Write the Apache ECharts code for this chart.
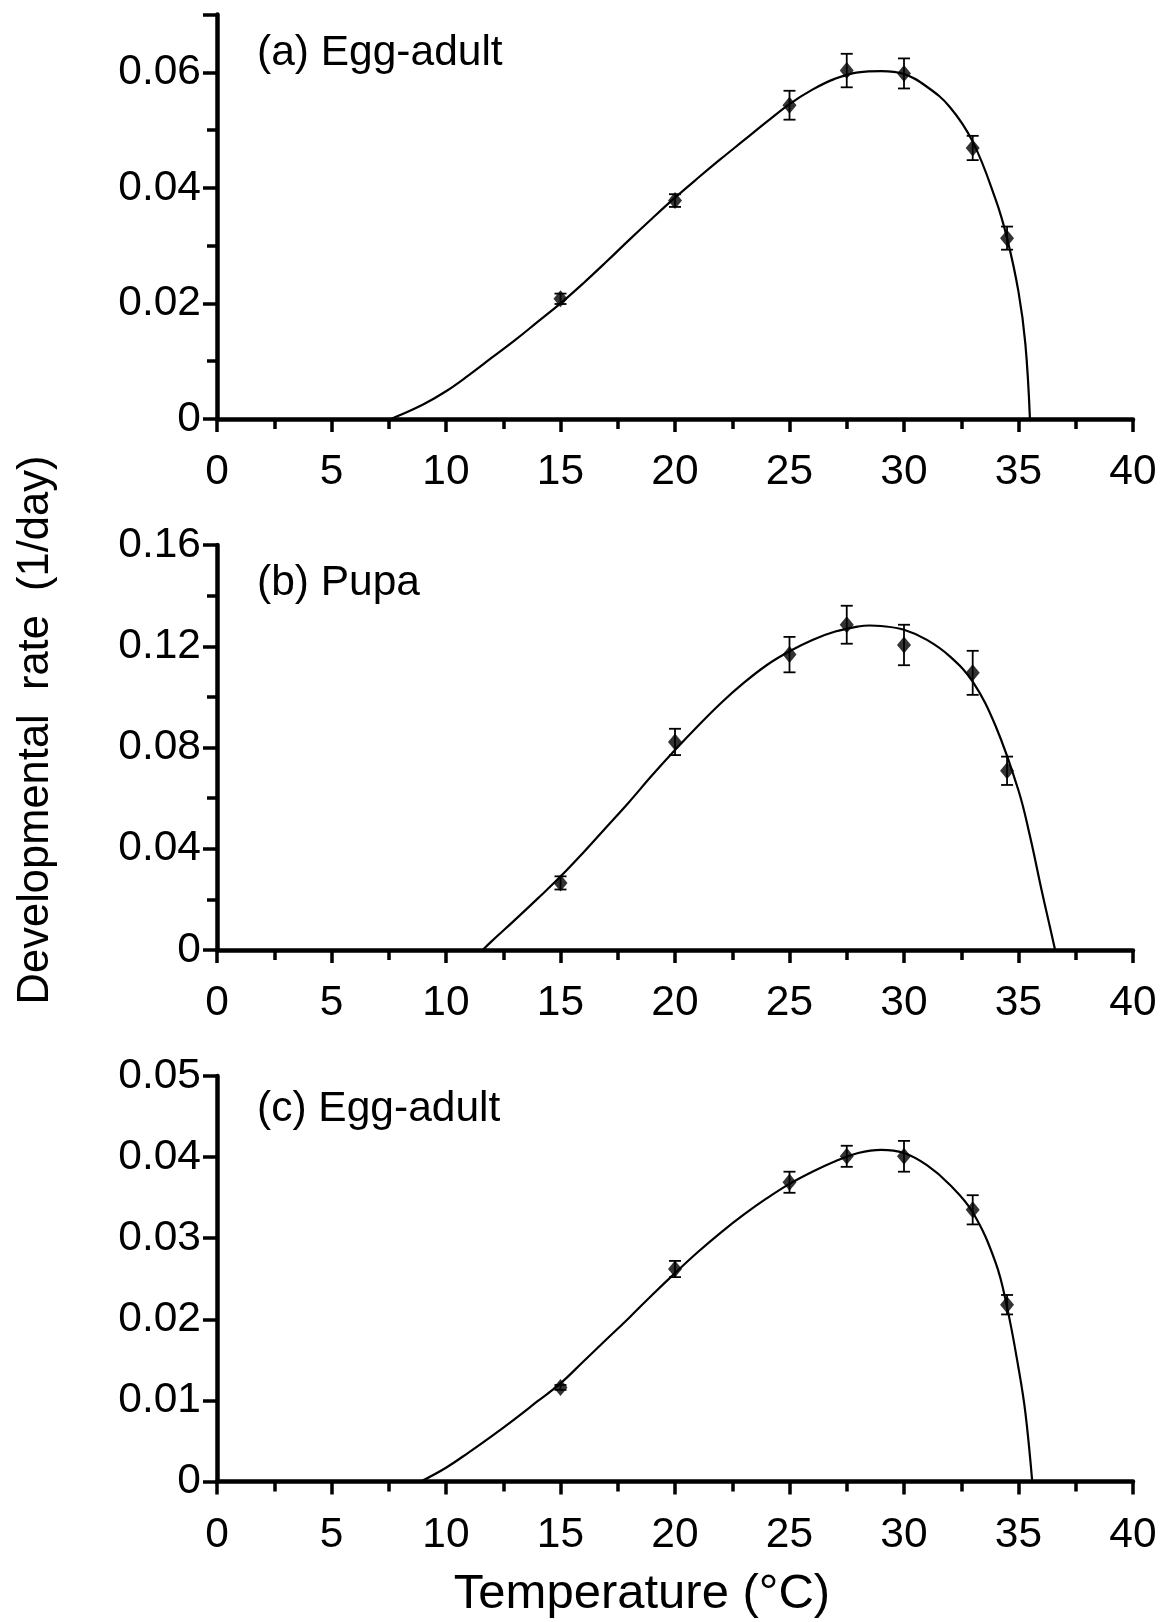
<!DOCTYPE html>
<html>
<head>
<meta charset="utf-8">
<script src="https://cdn.jsdelivr.net/npm/echarts@6/dist/echarts.min.js"></script>
<style>
  html, body { margin: 0; padding: 0; background: #fff; }
  #chart { width: 1165px; height: 1622px; }
</style>
</head>
<body>
<div id="chart"></div>
<script>
// Rearing temperatures (°C)
const temps = [15, 20, 25, 27.5, 30, 33, 34.5];

// (a) Egg-adult: mean developmental rate and standard error
const rateA = [0.0208, 0.0378, 0.0543, 0.0603, 0.0598, 0.0469, 0.0313];
const seA   = [0.0009, 0.0011, 0.0025, 0.0029, 0.0026, 0.0021, 0.0020];
// (b) Pupa
const rateB = [0.0265, 0.0822, 0.1167, 0.1285, 0.1205, 0.1095, 0.0708];
const seB   = [0.0026, 0.0052, 0.0070, 0.0075, 0.0080, 0.0087, 0.0056];
// (c) Egg-adult
const rateC = [0.0116, 0.0262, 0.0369, 0.0401, 0.0401, 0.0335, 0.0218];
const seC   = [0.0003, 0.0010, 0.0013, 0.0013, 0.0019, 0.0018, 0.0012];

// Fitted development-rate curves
const fitXA = [7.6, 8, 9, 10, 11, 12, 13, 14, 15, 16, 17, 18, 19, 20, 21, 22, 23, 24, 25, 26, 27, 28, 29, 30, 31, 32, 33, 34, 34.5, 35, 35.3, 35.5];
const fitYA = [0, 0.0007, 0.0025, 0.0048, 0.0076, 0.0106, 0.0136, 0.0168, 0.0200, 0.0235, 0.0272, 0.0310, 0.0347, 0.0383, 0.0417, 0.0450, 0.0482, 0.0514, 0.0545, 0.0570, 0.0589, 0.0600, 0.0602, 0.0597, 0.0575, 0.0540, 0.0480, 0.0380, 0.0313, 0.0220, 0.0130, 0];

const fitXB = [11.6, 12, 13, 14, 15, 16, 17, 18, 19, 20, 21, 22, 23, 24, 25, 26, 27, 28, 28.5, 29, 30, 31, 32, 33, 34, 35, 35.5, 36, 36.3, 36.6];
const fitYB = [0, 0.0035, 0.0118, 0.0203, 0.0290, 0.0385, 0.0485, 0.0585, 0.0690, 0.0790, 0.0885, 0.0975, 0.1055, 0.1125, 0.1180, 0.1225, 0.1258, 0.1278, 0.1282, 0.1280, 0.1265, 0.1225, 0.1160, 0.1060, 0.0885, 0.0630, 0.0450, 0.0240, 0.0120, 0];

const fitXC = [8.9, 10, 11, 12, 13, 14, 15, 16, 17, 18, 19, 20, 21, 22, 23, 24, 25, 26, 27, 28, 29, 30, 31, 32, 33, 34, 34.5, 35, 35.3, 35.6];
const fitYC = [0, 0.0017, 0.0036, 0.0056, 0.0077, 0.0099, 0.0121, 0.0148, 0.0175, 0.0202, 0.0230, 0.0257, 0.0283, 0.0307, 0.0329, 0.0349, 0.0367, 0.0382, 0.0395, 0.0405, 0.0409, 0.0405, 0.0390, 0.0366, 0.0332, 0.0270, 0.0215, 0.0140, 0.0085, 0];

// Axis settings per panel
const panelLabels = ['(a) Egg-adult', '(b) Pupa', '(c) Egg-adult'];
const yMax = [0.07, 0.16, 0.05];
const yStep = [0.02, 0.04, 0.01];
const yMinorSplit = [2, 2, 1];

const FONT = '"Liberation Sans", Arial, Helvetica, sans-serif';
const LABEL_SIZE = 42.5;

const grids = [
  { left: 217, right: 32, top: 14.5, height: 404.5 },
  { left: 217, right: 32, top: 545, height: 405 },
  { left: 217, right: 32, top: 1076, height: 405.5 }
];

function xAxisFor(i) {
  return {
    type: 'value', gridIndex: i, min: 0, max: 40, interval: 5,
    axisLine: { show: true, onZero: false, lineStyle: { color: '#000', width: 4.5 } },
    axisTick: { show: true, length: 13, lineStyle: { color: '#000', width: 3.5 } },
    minorTick: { show: true, splitNumber: 2, length: 10, lineStyle: { color: '#000', width: 3.5 } },
    splitLine: { show: false },
    axisLabel: { color: '#000', fontFamily: FONT, fontSize: LABEL_SIZE, margin: 32 }
  };
}

function isWholeStep(i) {
  return Math.abs(yMax[i] / yStep[i] - Math.round(yMax[i] / yStep[i])) < 1e-6;
}

function yAxisFor(i) {
  return {
    type: 'value', gridIndex: i, min: 0, max: yMax[i], interval: yStep[i],
    axisLine: { show: true, lineStyle: { color: '#000', width: 4.5 } },
    axisTick: { show: true, length: 14, lineStyle: { color: '#000', width: 3.5 } },
    minorTick: { show: yMinorSplit[i] > 1, splitNumber: yMinorSplit[i], length: 10, lineStyle: { color: '#000', width: 3.5 } },
    splitLine: { show: false },
    axisLabel: {
      color: '#000', fontFamily: FONT, fontSize: LABEL_SIZE, margin: 16,
      showMaxLabel: isWholeStep(i),
      formatter: v => (Math.abs(v) < 1e-12 ? '0' : String(parseFloat(v.toFixed(4))))
    }
  };
}

function errorBarSeries(i, means, errs) {
  return {
    type: 'custom', xAxisIndex: i, yAxisIndex: i, z: 3,
    data: temps.map((t, k) => [t, means[k] - errs[k], means[k] + errs[k]]),
    renderItem: function (params, api) {
      const lo = api.coord([api.value(0), api.value(1)]);
      const hi = api.coord([api.value(0), api.value(2)]);
      const half = 6;
      const style = { stroke: '#000', lineWidth: 1.8 };
      return {
        type: 'group',
        children: [
          { type: 'line', shape: { x1: lo[0], y1: lo[1], x2: hi[0], y2: hi[1] }, style },
          { type: 'line', shape: { x1: lo[0] - half, y1: lo[1], x2: lo[0] + half, y2: lo[1] }, style },
          { type: 'line', shape: { x1: hi[0] - half, y1: hi[1], x2: hi[0] + half, y2: hi[1] }, style }
        ]
      };
    }
  };
}

function curveSeries(i, xs, ys) {
  return {
    type: 'line', xAxisIndex: i, yAxisIndex: i, z: 2,
    data: xs.map((x, k) => [x, ys[k]]),
    showSymbol: false, smooth: 0.4,
    lineStyle: { color: '#000', width: 2.2 },
    silent: true
  };
}

function pointSeries(i, means) {
  return {
    type: 'scatter', xAxisIndex: i, yAxisIndex: i, z: 4,
    data: temps.map((t, k) => [t, means[k]]),
    symbol: 'diamond', symbolSize: [14, 17],
    itemStyle: { color: '#000' }
  };
}

const means = [rateA, rateB, rateC];
const errs = [seA, seB, seC];
const fits = [[fitXA, fitYA], [fitXB, fitYB], [fitXC, fitYC]];

const series = [];
for (let i = 0; i < 3; i++) {
  series.push(curveSeries(i, fits[i][0], fits[i][1]));
  series.push(errorBarSeries(i, means[i], errs[i]));
  series.push(pointSeries(i, means[i]));
}

const labelCenters = [53, 583, 1109];

const chart = echarts.init(document.getElementById('chart'), null, { renderer: 'canvas' });
chart.setOption({
  backgroundColor: '#fff',
  animation: false,
  grid: grids,
  xAxis: [0, 1, 2].map(xAxisFor),
  yAxis: [0, 1, 2].map(yAxisFor),
  series: series,
  graphic: [
    ...panelLabels.map((txt, i) => ({
      type: 'text', x: 257, y: labelCenters[i],
      style: { text: txt, fill: '#000', font: '42.5px ' + FONT, verticalAlign: 'middle' }
    })),
    {
      type: 'text', x: 36, y: 730, rotation: Math.PI / 2,
      style: { text: 'Developmental  rate  (1/day)', fill: '#000', font: '43.5px ' + FONT, align: 'center', verticalAlign: 'middle' }
    },
    {
      type: 'text', x: 642, y: 1594,
      style: { text: 'Temperature (°C)', fill: '#000', font: '49px ' + FONT, align: 'center', verticalAlign: 'middle' }
    }
  ]
});
</script>
</body>
</html>
